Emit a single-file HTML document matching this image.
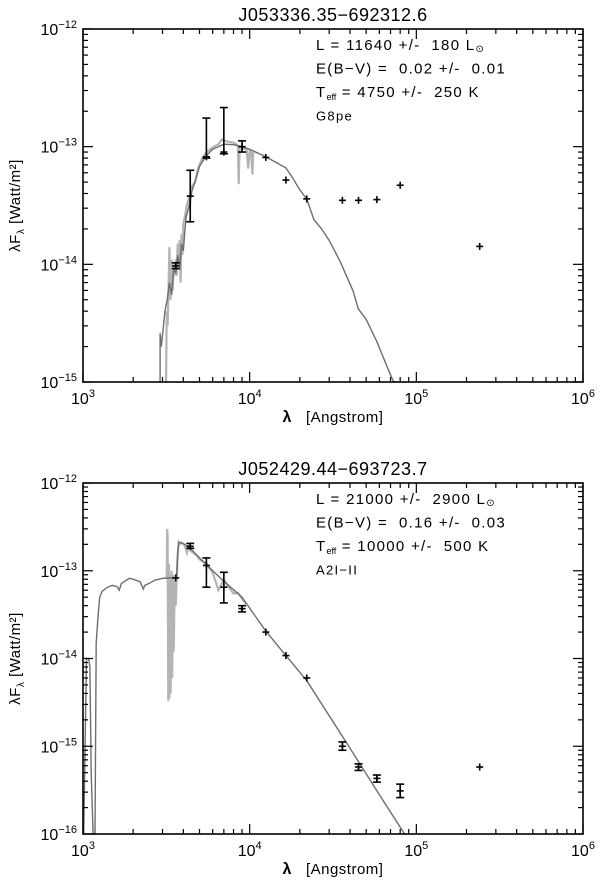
<!DOCTYPE html>
<html><head><meta charset="utf-8">
<style>
html,body{margin:0;padding:0;background:#fff;}
svg{display:block;font-family:"Liberation Sans","DejaVu Sans",sans-serif;}
svg text{white-space:pre;}
</style></head>
<body>
<svg id="chart" width="600" height="888" viewBox="0 0 600 888" xmlns="http://www.w3.org/2000/svg"></svg>
<script>
// ---------- Panel 1 data ----------
const p1Title = "J053336.35-692312.6";
const p1Lines = ["L = 11640 +/-  180 L", "E(B\u2212V) =  0.02 +/-  0.01", "T = 4750 +/-  250 K", "G8pe"];
const p1Wave = [3600, 4400, 5500, 7000, 9000, 12500, 16500, 22000, 36000, 45000, 58000, 80000, 240000];
const p1Flux = [9.7e-15, 3.8e-14, 8.2e-14, 9.0e-14, 1.0e-13, 8.1e-14, 5.2e-14, 3.6e-14, 3.5e-14, 3.5e-14, 3.55e-14, 4.7e-14, 1.42e-14];
const p1ErrLo = [9.2e-15, 2.3e-14, 8.0e-14, 8.7e-14, 9.0e-14, 8.1e-14, 5.2e-14, 3.6e-14, 3.5e-14, 3.5e-14, 3.55e-14, 4.7e-14, 1.42e-14];
const p1ErrHi = [1.03e-14, 6.3e-14, 1.75e-13, 2.15e-13, 1.12e-13, 8.1e-14, 5.2e-14, 3.6e-14, 3.5e-14, 3.5e-14, 3.55e-14, 4.7e-14, 1.42e-14];
const p1ModelW = [2900, 2900, 2950, 3000, 3100, 3200, 3300, 3400, 3500, 3600, 3700, 3800, 3900, 4000, 4150, 4300, 4500, 4700, 5000, 5500, 6000, 7000, 8000, 9000, 10000, 12500, 16500, 18000, 20000, 22000, 24300, 27000, 30000, 35000, 41800, 44800, 50000, 58000, 66000, 73000, 76000];
const p1ModelF = [1e-15, 2.6e-15, 2.0e-15, 2.5e-15, 4e-15, 5e-15, 7e-15, 5.5e-15, 9e-15, 8.5e-15, 1.2e-14, 9e-15, 1.5e-14, 1.3e-14, 2.5e-14, 3.0e-14, 4.2e-14, 5.0e-14, 6.8e-14, 8.4e-14, 9.5e-14, 1.05e-13, 1.04e-13, 1.0e-13, 9.5e-14, 8.2e-14, 6.6e-14, 5.5e-14, 4.3e-14, 3.6e-14, 2.4e-14, 2.0e-14, 1.6e-14, 1.05e-14, 5.9e-15, 4.2e-15, 3.4e-15, 2.2e-15, 1.4e-15, 1.0e-15, 8e-16];
const p1ObsW = [3150, 3180, 3220, 3260, 3300, 3350, 3400, 3450, 3500, 3550, 3600, 3650, 3700, 3750, 3800, 3850, 3900, 3950, 4000, 4100, 4200, 4300, 4400, 4500, 4700, 4900, 5200, 5500, 5800, 6100, 6500, 6800, 7100, 7500, 8000, 8300, 8500, 8600, 8700, 9000, 9300, 9600, 9800, 10000, 10200, 10400, 10500];
const p1ObsF = [1e-15, 4e-15, 3e-15, 6e-15, 1.4e-14, 5e-15, 1.1e-14, 6e-15, 1.0e-14, 8e-15, 1.1e-14, 8e-15, 1.5e-14, 1.1e-14, 1.6e-14, 7e-15, 1.8e-14, 1.2e-14, 2.2e-14, 2.6e-14, 3.2e-14, 3.6e-14, 3.4e-14, 4.6e-14, 5.0e-14, 6.5e-14, 8.0e-14, 9.0e-14, 9.5e-14, 1.0e-13, 1.05e-13, 1.15e-13, 1.12e-13, 1.1e-13, 1.08e-13, 1.05e-13, 1.02e-13, 4.8e-14, 1.0e-13, 1.0e-13, 9.6e-14, 9.5e-14, 6.5e-14, 9.2e-14, 9.0e-14, 5.8e-14, 9.0e-14];

// ---------- Panel 2 data ----------
const p2Title = "J052429.44-693723.7";
const p2Lines = ["L = 21000 +/-  2900 L", "E(B\u2212V) =  0.16 +/-  0.03", "T = 10000 +/-  500 K", "A2I\u2212II"];
const p2Wave = [3600, 4400, 5500, 7000, 9000, 12500, 16500, 22000, 36000, 45000, 58000, 80000, 240000];
const p2Flux = [8.3e-14, 1.9e-13, 1.15e-13, 6.5e-14, 3.7e-14, 2.0e-14, 1.08e-14, 6.0e-15, 1.0e-15, 5.8e-16, 4.3e-16, 3.1e-16, 5.8e-16];
const p2ErrLo = [8.3e-14, 1.8e-13, 6.5e-14, 4.3e-14, 3.4e-14, 2.0e-14, 1.08e-14, 6.0e-15, 9.0e-16, 5.3e-16, 3.9e-16, 2.6e-16, 5.8e-16];
const p2ErrHi = [8.3e-14, 2.05e-13, 1.4e-13, 9.6e-14, 4.0e-14, 2.0e-14, 1.08e-14, 6.0e-15, 1.12e-15, 6.3e-16, 4.7e-16, 3.7e-16, 5.8e-16];
const p2ModelW = [1000, 1010, 1030, 1050, 1080, 1100, 1120, 1150, 1180, 1200, 1230, 1260, 1300, 1400, 1500, 1600, 1650, 1700, 1900, 2000, 2200, 2300, 2350, 2500, 2700, 3000, 3300, 3600, 3650, 3700, 3750, 3800, 4000, 4400, 5000, 6000, 7000, 9000, 12500, 16500, 22000, 40000, 60000, 85000];
const p2ModelF = [1e-16, 1e-16, 1e-15, 1e-14, 1.0e-14, 8e-15, 5e-16, 1e-16, 1e-16, 1.5e-14, 3e-14, 5e-14, 5.8e-14, 6.5e-14, 6.8e-14, 6.6e-14, 6.0e-14, 7.2e-14, 8.2e-14, 8.0e-14, 7.5e-14, 6.2e-14, 6.8e-14, 7.2e-14, 7.8e-14, 8.2e-14, 8.3e-14, 8.3e-14, 9e-14, 1.6e-13, 2.1e-13, 2.1e-13, 2.05e-13, 1.8e-13, 1.4e-13, 1.0e-13, 7.6e-14, 5.0e-14, 2.05e-14, 1.08e-14, 5.6e-15, 9.5e-16, 2.8e-16, 1e-16];
const p2ObsW = [3180, 3200, 3220, 3250, 3280, 3300, 3330, 3360, 3400, 3430, 3470, 3500, 3550, 3600, 3650, 3700, 3750, 3800, 3900, 4000, 4100, 4200, 4300, 4400, 4600, 4800, 5000, 5500, 6000, 6500, 7000, 7500, 8000, 8500, 9000, 9500];
const p2ObsF = [8e-14, 3.0e-13, 2.5e-13, 3.3e-15, 1.2e-13, 3.5e-15, 9e-14, 4e-15, 1.0e-13, 6e-15, 9e-14, 1.2e-14, 8e-14, 4e-14, 8e-14, 1.5e-13, 2.1e-13, 2.0e-13, 2.1e-13, 2.0e-13, 1.9e-13, 1.6e-13, 1.9e-13, 1.7e-13, 1.6e-13, 1.5e-13, 1.35e-13, 1.2e-13, 9.5e-14, 6e-14, 8e-14, 6.5e-14, 5.5e-14, 5.6e-14, 4.8e-14, 4.2e-14];

const NS = "http://www.w3.org/2000/svg";
const svg = document.getElementById('chart');
function mk(tag, attrs, parent){
  const e = document.createElementNS(NS, tag);
  for (const k in attrs) e.setAttribute(k, attrs[k]);
  (parent||svg).appendChild(e);
  return e;
}

function panel(cfg){
  const {left, right, top, bottom, yMinExp, yMaxExp, title, lines, wave, flux, lo, hi, mW, mF, oW, oF, key} = cfg;
  const g = mk('g', {});
  
  
  const xs = v => left + (Math.log10(v) - 3) / 3 * (right - left);
  const ys = v => bottom - (Math.log10(v) - yMinExp) / (yMaxExp - yMinExp) * (bottom - top);

  let d = oW.map((w,i)=> (i?'L':'M') + xs(w).toFixed(1) + ' ' + Math.min(bottom, ys(oF[i])).toFixed(1)).join(' ');
  const obs = mk('path', {d, fill:'none', stroke:'#b4b4b4', 'stroke-width':2.2}, g);
  
  
  d = mW.map((w,i)=> (i?'L':'M') + xs(w).toFixed(1) + ' ' + Math.min(bottom, ys(mF[i])).toFixed(1)).join(' ');
  const mod = mk('path', {d, fill:'none', stroke:'#6e6e6e', 'stroke-width':1.4}, g);
  
  

  wave.forEach((w,i)=>{
    const x = xs(w), y = ys(flux[i]);
    const pg = mk('g', {stroke:'#000', 'stroke-width':1.6}, g);
    
    
    mk('line', {x1:x-3.5, x2:x+3.5, y1:y, y2:y}, pg);
    mk('line', {x1:x, x2:x, y1:y-3.5, y2:y+3.5}, pg);
    const yl = ys(lo[i]), yh = ys(hi[i]);
    if (Math.abs(yl - yh) > 2){
      mk('line', {x1:x, x2:x, y1:yh, y2:yl}, pg);
      mk('line', {x1:x-4, x2:x+4, y1:yh, y2:yh}, pg);
      mk('line', {x1:x-4, x2:x+4, y1:yl, y2:yl}, pg);
    }
  });

  const box = mk('rect', {x:left, y:top, width:right-left, height:bottom-top, fill:'none', stroke:'#000', 'stroke-width':1.6}, g);
  
  
  const tk = mk('g', {stroke:'#000', 'stroke-width':1.2}, g);
  
  
  for (let e = 3; e <= 6; e++){
    for (let m = 1; m <= 9; m++){
      if (e === 6 && m > 1) break;
      const x = xs(m * Math.pow(10, e));
      const L = m === 1 ? 10 : 5;
      mk('line', {x1:x, x2:x, y1:bottom, y2:bottom-L}, tk);
      mk('line', {x1:x, x2:x, y1:top, y2:top+L}, tk);
    }
    const t = mk('text', {x:xs(Math.pow(10,e)), y:bottom+22, 'text-anchor':'middle', 'font-size':16}, g);
    
    
    t.innerHTML = '10<tspan dy="-7" font-size="11">' + e + '</tspan>';
  }
  for (let e = yMinExp; e <= yMaxExp; e++){
    for (let m = 1; m <= 9; m++){
      if (e === yMaxExp && m > 1) break;
      const y = ys(m * Math.pow(10, e));
      const L = m === 1 ? 10 : 5;
      mk('line', {x1:left, x2:left+L, y1:y, y2:y}, tk);
      mk('line', {x1:right, x2:right-L, y1:y, y2:y}, tk);
    }
    const t = mk('text', {x:left-6, y:ys(Math.pow(10,e))+6, 'text-anchor':'end', 'font-size':16}, g);
    
    
    t.innerHTML = '10<tspan dy="-7" font-size="11">\u2212' + (-e) + '</tspan>';
  }

  const tt = mk('text', {x:(left+right)/2, y:top-8, 'text-anchor':'middle', 'font-size':18, 'letter-spacing':0.5}, g);
  
  
  tt.textContent = title.replace('-', '\u2212');

  const xl = mk('text', {x:(left+right)/2, y:bottom+40, 'text-anchor':'middle', 'font-size':15, 'letter-spacing':0.5}, g);
  
  
  xl.innerHTML = '<tspan font-weight="bold" font-size="16">\u03bb</tspan>   [Angstrom]';
  const yl = mk('text', {x:0, y:0, 'text-anchor':'middle', 'font-size':15, 'letter-spacing':0.5, transform:'translate(20,' + ((top+bottom)/2) + ') rotate(-90)'}, g);
  
  
  yl.innerHTML = '\u03bbF<tspan dy="4" font-size="10">\u03bb</tspan><tspan dy="-4"> [Watt/m\u00b2]</tspan>';

  const ax = 316;
  lines.forEach((s, i)=>{
    const t = mk('text', {x:ax, y:top+21 + i*23.5, 'font-size': i===3 ? 13 : 15, 'letter-spacing':1.3}, g);
    
    
    if (i === 0) t.innerHTML = s + '<tspan font-size="10" dy="2">\u2299</tspan>';
    else if (i === 2) t.innerHTML = 'T<tspan font-size="9" dy="3" letter-spacing="0">eff</tspan><tspan dy="-3">' + s.slice(1) + '</tspan>';
    else t.textContent = s;
  });
}

panel({left:83, right:583, top:29, bottom:382, yMinExp:-15, yMaxExp:-12, title:p1Title, lines:p1Lines,
  wave:p1Wave, flux:p1Flux, lo:p1ErrLo, hi:p1ErrHi, mW:p1ModelW, mF:p1ModelF, oW:p1ObsW, oF:p1ObsF, key:'top'});
panel({left:83, right:583, top:483, bottom:834, yMinExp:-16, yMaxExp:-12, title:p2Title, lines:p2Lines,
  wave:p2Wave, flux:p2Flux, lo:p2ErrLo, hi:p2ErrHi, mW:p2ModelW, mF:p2ModelF, oW:p2ObsW, oF:p2ObsF, key:'bottom'});
</script>
</body></html>
